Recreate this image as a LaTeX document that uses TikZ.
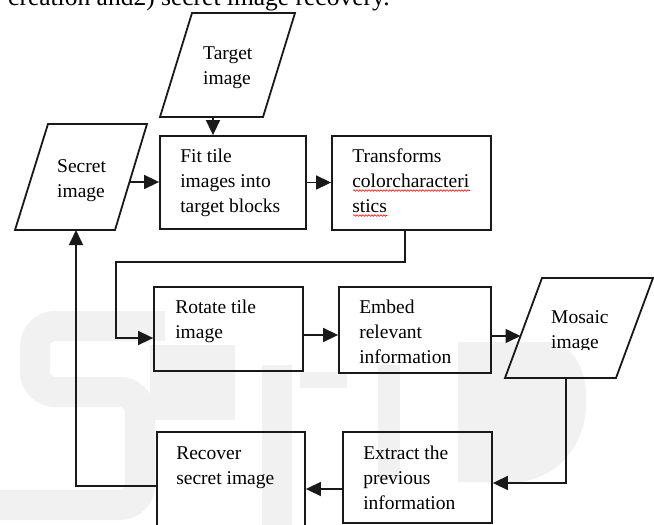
\documentclass[tikz,border=0pt]{standalone}
\usepackage{fontspec}
\setmainfont{Liberation Serif}
\usetikzlibrary{arrows.meta,decorations.pathmorphing,calc}
\begin{document}
\begin{tikzpicture}[x=1pt,y=-1pt,
  box/.style={draw=black!90,line width=1.8pt,inner sep=0pt,minimum width=#1},
  para/.style={draw=black!90,line width=1.8pt,line join=miter},
  lbl/.style={anchor=north west,inner sep=0pt,align=left,font=\fontsize{19.5}{25}\selectfont},
  conn/.style={line width=1.6pt,draw=black!90},
  arr/.style={conn,-{Triangle[length=15pt,width=14pt]}},
  wm/.style={fill=gray!11,draw=none},
  wms/.style={draw=gray!11,line width=30pt,rounded corners=20pt},
  squig/.style={draw=red,line width=0.6pt,decorate,decoration={snake,amplitude=0.8pt,segment length=3pt}}]
\useasboundingbox (0,0) rectangle (654,525);
% watermark (faint)
\draw[wms] (165,326) -- (35,326) -- (35,392) -- (140,392) -- (140,505) -- (0,505);
\fill[wm] (150,345) rectangle (235,420);
\fill[wm] (262,365) rectangle (292,525);
\fill[wm] (300,372) rectangle (347,388);
\fill[wm] (378,365) rectangle (400,480);
\fill[wm] (458,342) rectangle (553,418);
\fill[wm] (553,342) .. controls (600,350) and (605,470) .. (520,482) -- (458,482) -- (458,418) -- (553,418) -- cycle;
% top text (cut)
\node[anchor=base west,inner sep=0pt,font=\fontsize{25.5}{30}\selectfont] (cap) at (8,5) {creation and2) secret image recovery.};
% parallelograms
\draw[para] (192,13) -- (295,13) -- (263,117) -- (160,117) -- cycle;
\node[lbl] (tgt) at (203,41.5) {\strut Target\\image};
\draw[para] (48,124) -- (147,124) -- (115,230) -- (15,230) -- cycle;
\node[lbl] (sec) at (57,154.5) {\strut Secret\\image};
\draw[para] (542,278) -- (653,278) -- (616,378) -- (505,378) -- cycle;
\begin{scope}
\clip (500,270) rectangle (654,349);
\node[lbl] (mos) at (551,305.5) {\strut Mosaic\\image};
\end{scope}
\coordinate (tgtS) at (213,117);
\coordinate (secR) at (130,182);
\coordinate (secB) at (76,230);
\coordinate (mosL) at (520.5,336);
\coordinate (mosB) at (566,378);
% boxes
\node[box=146pt,minimum height=93pt] (fit) at (233,182.5) {};
\node[box=159pt,minimum height=94pt] (trans) at (411.5,183) {};
\node[box=149pt,minimum height=84pt] (rot) at (228.5,329) {};
\node[box=152pt,minimum height=86pt] (emb) at (415,330) {};
\node[box=148pt,minimum height=108pt] (rec) at (231,486) {};
\node[box=149pt,minimum height=91pt] (ext) at (417.5,477.5) {};
% box texts
\node[lbl] (fitT) at ([xshift=21pt,yshift=-9.5pt]fit.north west) {\strut Fit tile\\images into\\target blocks};
\node[lbl] (transT) at ([xshift=21pt,yshift=-9.5pt]trans.north west) {\strut Transforms\\colorcharacteri\\stics};
\node[lbl] (rotT) at ([xshift=22pt,yshift=-9.5pt]rot.north west) {\strut Rotate tile\\image};
\begin{scope}
\clip (340,280) rectangle (490,363.5);
\node[lbl] (embT) at ([xshift=21pt,yshift=-9.5pt]emb.north west) {\strut Embed\\relevant\\information};
\end{scope}
\node[lbl] (recT) at ([xshift=20pt,yshift=-10.5pt]rec.north west) {\strut Recover\\secret image};
\node[lbl] (extT) at ([xshift=21pt,yshift=-10.5pt]ext.north west) {\strut Extract the\\previous\\information};
% spell-check squiggles
\draw[squig] (353,190.5) -- (470,190.5);
\draw[squig] (353,215.5) -- (387,215.5);
% connectors
\draw[arr] (tgtS) -- (fit.north -| tgtS);
\draw[arr] (secR) -- (fit.west |- secR);
\draw[arr] (fit.east) -- (trans.west |- fit.east);
\draw[arr] ([xshift=-6.5pt]trans.south) |- ++(0,31) -| (116,338) -- (rot.west |- 0,338);
\draw[arr] ([yshift=-6pt]rot.east) -- (emb.west |- 0,335);
\draw[arr] (emb.east |- mosL) -- (mosL);
\draw[arr] (mosB) |- (ext.east |- 0,483);
\draw[arr] (ext.west |- 0,489) -- (rec.east |- 0,489);
\draw[arr] (rec.west) -| (secB);
\end{tikzpicture}
\end{document}
